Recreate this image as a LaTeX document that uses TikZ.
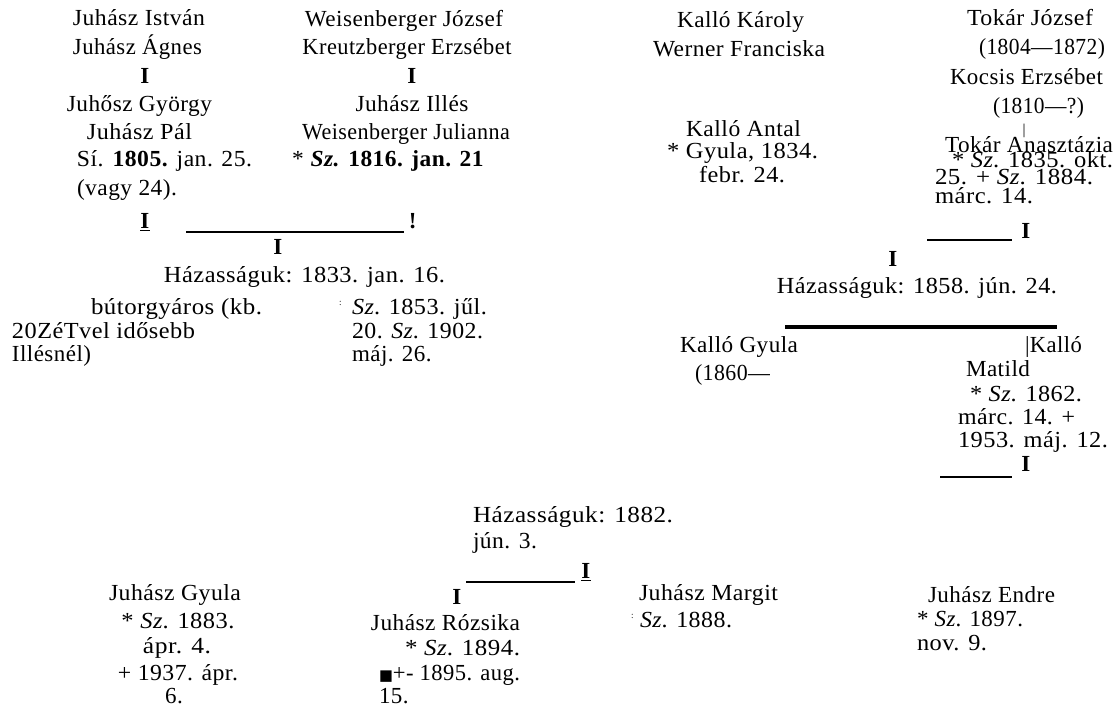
\documentclass[tikz,border=0pt]{standalone}
\usepackage{fontspec}
\usepackage{graphicx}
\setmainfont{Liberation Serif}[LetterSpace=2]
\newfontfamily\djv{DejaVu Sans}
\newcommand\fw[2]{\resizebox{#1pt}{\height}{#2}}
\newcommand\tx{\fontsize{23}{27}\selectfont}
\newcommand\tinyfs{\fontsize{9}{10}\selectfont}
\begin{document}
\begin{tikzpicture}[x=1pt,y=-1pt,
  every node/.style={inner sep=0pt, outer sep=0pt, font=\tx},
  c/.style={anchor=base},
  l/.style={anchor=base west},
  rulethin/.style={line width=1.2pt},
  rulethick/.style={line width=4pt}]
\useasboundingbox (0,0) rectangle (1120,708);
% Block A
\node[c] (a1) at (139,26) {\fw{132}{Juhász István}};
\node[c] (a2) at (137.5,55) {\fw{129}{Juhász Ágnes}};
\node[c] (a3) at (145,84) {\textbf{I}};
\node[c] (a4) at (139.5,112) {\fw{145}{Juhősz György}};
\node[c] (a5) at (139.5,140) {\fw{105}{Juhász Pál}};
\node[l] (a6) at (77,167) {\fw{175}{Sí. \textbf{1805.} jan. 25.}};
\node[l] (a7) at (77,196) {\fw{100}{(vagy 24).}};
% Block B
\node[c] (b1) at (404,27) {\fw{198}{Weisenberger József}};
\node[c] (b2) at (407,55) {\fw{209}{Kreutzberger Erzsébet}};
\node[c] (b3) at (412,84) {\textbf{I}};
\node[c] (b4) at (412,112) {\fw{113}{Juhász Illés}};
\node[c] (b5) at (406,140) {\fw{208}{Weisenberger Julianna}};
\node[l] (b6) at (292,167) {\fw{192}{* \textbf{\textit{Sz.} 1816. jan. 21}}};
% Row C
\node[c] (c1) at (145,229) {\underline{\textbf{I}}};
\coordinate (c2a) at (186,232);
\coordinate (c2b) at (404,232);
\draw[rulethin] (c2a) -- (c2b);
\node[c] (c3) at (413,229) {\textbf{!}};
\node[c] (c4) at (278,255) {\textbf{I}};
\node[c] (c5) at (304.5,283) {\fw{281}{Házasságuk: 1833. jan. 16.}};
\node[l] (c6) at (91,315) {\fw{171}{bútorgyáros (kb.}};
\node[l] (c7) at (12,339) {\fw{183}{20ZéTvel idősebb}};
\node[l] (c8) at (12,362) {Illésnél)};
\node[l, font=\tinyfs] (c9) at (339,306) {:};
\node[l] (c10) at (352,315) {\fw{135}{\textit{Sz}. 1853. jűl.}};
\node[l] (c11) at (352,339) {\fw{131}{20. \textit{Sz}. 1902.}};
\node[l] (c12) at (352,362) {máj. 26.};
% Kalló top
\node[c] (d1) at (740.5,28) {\fw{127}{Kalló Károly}};
\node[c] (d2) at (739,57) {\fw{172}{Werner Franciska}};
\node[c] (d3) at (743.5,137) {\fw{115}{Kalló Antal}};
\node[c] (d4) at (742.5,159) {\fw{151}{* Gyula, 1834.}};
\node[c] (d5) at (742,183) {\fw{86}{febr. 24.}};
% Tokár
\node[c] (e1) at (1030,26) {\fw{126}{Tokár József}};
\node[c] (e2) at (1042,55) {\fw{126}{(1804—1872)}};
\node[c] (e3) at (1026.5,85) {\fw{153}{Kocsis Erzsébet}};
\node[c] (e4) at (1038.5,114) {\fw{91}{(1810—?)}};
\node[c, font=\fontsize{15}{16}\selectfont] (e5) at (1024,135) {|};
\node[c] (e6) at (1029,153) {\fw{168}{Tokár Anasztázia}};
\node[l] (e7) at (952,168) {\fw{161}{* \textit{Sz}. 1835. okt.}};
\node[l] (e8) at (935,185) {\fw{158}{25. + \textit{Sz}. 1884.}};
\node[l] (e9) at (935,204) {\fw{98}{márc. 14.}};
\coordinate (e10a) at (927,240);
\coordinate (e10b) at (1012,240);
\draw[rulethin] (e10a) -- (e10b);
\node[c] (e11) at (1026,239) {\textbf{I}};
\node[c] (f1) at (893,267) {\textbf{I}};
\node[c] (f2) at (917,294) {\fw{280}{Házasságuk: 1858. jún. 24.}};
\coordinate (f3a) at (785,327);
\coordinate (f3b) at (1057,327);
\draw[rulethick] (f3a) -- (f3b);
\node[l] (g1) at (680,353) {\fw{118}{Kalló Gyula}};
\node[l] (g2) at (695,381) {\fw{75}{(1860—}};
\node[l] (h1) at (1025,353) {\fw{57}{|Kalló}};
\node[l] (h2) at (966,377) {\fw{64}{Matild}};
\node[l] (h3) at (970,402) {\fw{112}{* \textit{Sz}. 1862.}};
\node[l] (h4) at (958,425) {\fw{117}{márc. 14. +}};
\node[l] (h5) at (958,448) {\fw{150}{1953. máj. 12.}};
\coordinate (h6a) at (940,477);
\coordinate (h6b) at (1012,477);
\draw[rulethin] (h6a) -- (h6b);
\node[c] (h7) at (1026,472) {\textbf{I}};
% Bottom
\node[l] (i1) at (473,522) {\fw{200}{Házasságuk: 1882.}};
\node[l] (i2) at (473,548) {\fw{64}{jún. 3.}};
\coordinate (i3a) at (466,582);
\coordinate (i3b) at (575,582);
\draw[rulethin] (i3a) -- (i3b);
\node[c] (i4) at (586,579) {\underline{\textbf{I}}};
\node[c] (j1) at (457,604) {\textbf{I}};
\node[c] (k1) at (175,600) {\fw{132}{Juhász Gyula}};
\node[c] (k2) at (178,628) {\fw{113}{* \textit{Sz}. 1883.}};
\node[c] (k3) at (177,653) {\fw{68}{ápr. 4.}};
\node[c] (k4) at (178,680) {\fw{120}{+ 1937. ápr.}};
\node[c] (k5) at (174,703) {6.};
\node[c] (m1) at (445.5,630) {\fw{149}{Juhász Rózsika}};
\node[l] (m2) at (405,655) {\fw{115}{* \textit{Sz}. 1894.}};
\node[l] (m3) at (379,680) {\fw{141}{{\djv\fontsize{15}{15}\selectfont ■}+- 1895. aug.}};
\node[l] (m4) at (379,703) {15.};
\node[l] (n1) at (639,600) {\fw{139}{Juhász Margit}};
\node[l, font=\tinyfs] (n2) at (631,618) {:};
\node[l] (n3) at (640,627) {\fw{92}{\textit{Sz}. 1888.}};
\node[l] (o1) at (928,602) {\fw{127}{Juhász Endre}};
\node[l] (o2) at (917,626) {\fw{106}{* \textit{Sz}. 1897.}};
\node[l] (o3) at (917,650) {\fw{70}{nov. 9.}};
\end{tikzpicture}
\end{document}
